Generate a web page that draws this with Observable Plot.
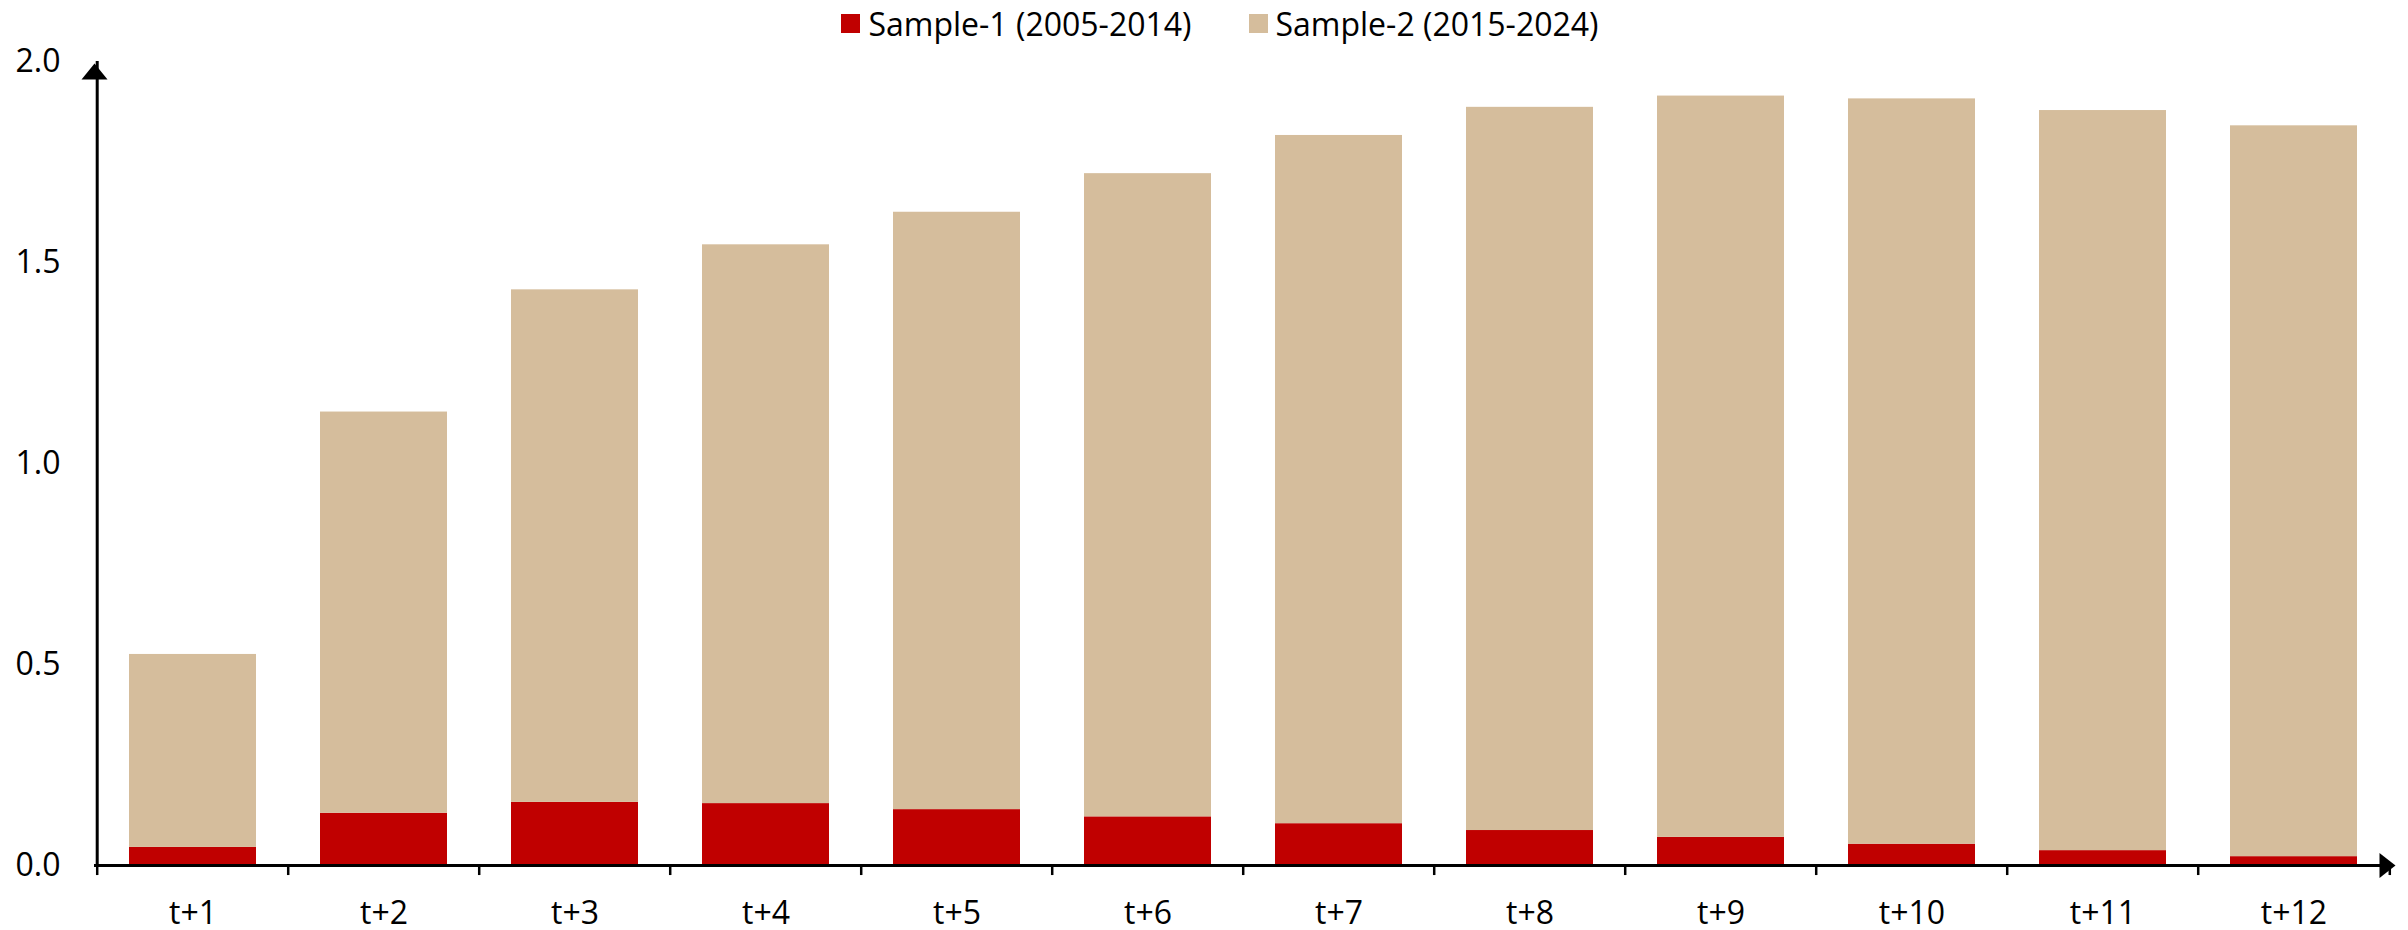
<!DOCTYPE html>
<html>
<head>
<meta charset="utf-8">
<script src="https://cdn.jsdelivr.net/npm/d3@7"></script>
<script src="https://cdn.jsdelivr.net/npm/@observablehq/plot@0.6"></script>
<style>
  body { margin: 0; background: #fff; font-family: "Open Sans", sans-serif; }
  #legend { height: 46px; display: flex; justify-content: center; align-items: center; gap: 57px; font-size: 32px; color: #000; padding-left: 32px; }
  .item { display: flex; align-items: center; gap: 8px; }
  .sw { width: 19px; height: 19px; display: inline-block; }
  #chart svg { overflow: visible; }
</style>
</head>
<body>
<div id="legend"></div>
<div id="chart"></div>
<script>
const horizons = ["t+1", "t+2", "t+3", "t+4", "t+5", "t+6", "t+7", "t+8", "t+9", "t+10", "t+11", "t+12"];
const seriesNames = ["Sample-1 (2005-2014)", "Sample-2 (2015-2024)"];
const sample1 = [0.045, 0.130, 0.157, 0.154, 0.139, 0.121, 0.104, 0.087, 0.070, 0.053, 0.037, 0.022];
const sample2 = [0.480, 0.998, 1.275, 1.390, 1.486, 1.600, 1.712, 1.799, 1.844, 1.854, 1.841, 1.818];
const seriesColors = ["#C00000", "#D5BD9C"];
const yTicks = [0, 0.5, 1.0, 1.5, 2.0];

const rows = [];
seriesNames.forEach((s, si) => {
  const vals = si === 0 ? sample1 : sample2;
  horizons.forEach((h, i) => rows.push({h, series: s, value: vals[i]}));
});

// legend
const legend = document.getElementById("legend");
seriesNames.forEach((s, i) => {
  const it = document.createElement("div");
  it.className = "item";
  const sw = document.createElement("span");
  sw.className = "sw";
  sw.style.background = seriesColors[i];
  const tx = document.createElement("span");
  tx.textContent = s;
  it.append(sw, tx);
  legend.append(it);
});

const W = 2408, H = 884, ML = 94, MR = 15, MT = 15, MB = 65;
const step = (W - ML - MR) / horizons.length;

const yArrow = {draw(ctx) { ctx.moveTo(0, 2); ctx.lineTo(13, 18); ctx.lineTo(-13, 18); ctx.closePath(); }};
const xArrow = {draw(ctx) { ctx.moveTo(2, 0); ctx.lineTo(-14, -12.5); ctx.lineTo(-14, 12.5); ctx.closePath(); }};

const chart = Plot.plot({
  width: W, height: H,
  marginLeft: ML, marginRight: MR, marginTop: MT, marginBottom: MB,
  style: {fontFamily: "Open Sans", fontSize: "32px", color: "#000", background: "transparent", overflow: "visible"},
  x: {domain: horizons, paddingInner: 1/3, paddingOuter: 1/6, axis: null},
  y: {domain: [0, 2], axis: null},
  color: {domain: seriesNames, range: seriesColors},
  marks: [
    Plot.barY(rows, {x: "h", y: "value", fill: "series"}),
    Plot.axisY(yTicks, {tickSize: 0, tickPadding: 34, tickFormat: d3.format(".1f"), label: null, fontSize: 32}),
    Plot.axisX({tickSize: 0, tickPadding: 36, label: null, fontSize: 32}),
    Plot.ruleX(horizons, {dx: -step / 2, y1: 0, y2: -0.025, stroke: "#000", strokeWidth: 2.5}),
    Plot.ruleX([horizons[horizons.length - 1]], {dx: step / 2, y1: 0, y2: -0.025, stroke: "#000", strokeWidth: 2.5}),
    Plot.ruleY([0], {stroke: "#000", strokeWidth: 3}),
    Plot.ruleX([horizons[0]], {dx: -step / 2, stroke: "#000", strokeWidth: 3}),
    Plot.dot([0], {frameAnchor: "top-left", symbol: yArrow, fill: "#000", stroke: null}),
    Plot.dot([0], {frameAnchor: "bottom-right", symbol: xArrow, fill: "#000", stroke: null})
  ]
});
document.getElementById("chart").append(chart);
</script>
</body>
</html>
